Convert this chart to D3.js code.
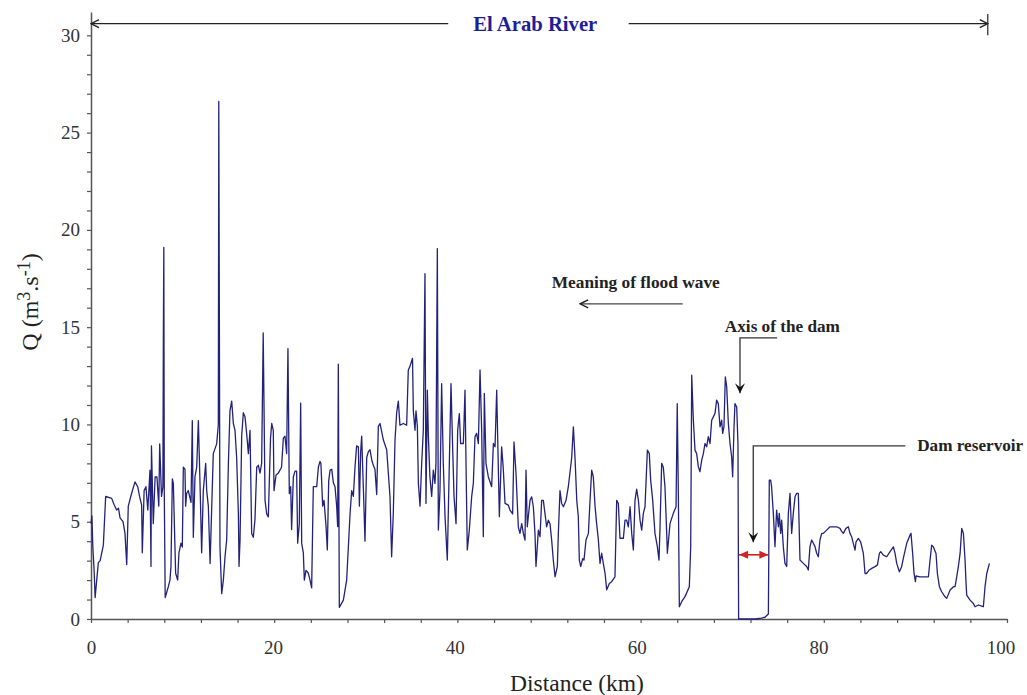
<!DOCTYPE html>
<html>
<head>
<meta charset="utf-8">
<script src="https://cdn.jsdelivr.net/npm/d3@7"></script>
<style>
  body { margin: 0; background: #fff; }
  svg { display: block; font-family: "Liberation Serif", "Times New Roman", serif; }
</style>
</head>
<body>
<svg id="chart" width="1027" height="695"></svg>
<script>
// discharge Q (m3/s) along the river as [km, Q]
const reachUpper = [
  [0,4.9],[0.1,5.3],[0.2,3.7],[0.35,2.4],[0.45,1.1],[0.8,2.9],[1.0,3.0],[1.35,3.8],[1.6,6.3],[2.26,6.2],
  [2.5,5.9],[2.8,5.6],[3.0,5.7],[3.17,5.2],[3.5,5.0],[3.71,4.4],[3.9,2.8],[4.07,5.8],[4.4,6.4],[4.8,7.05],
  [5.1,6.8],[5.3,6.3],[5.53,5.85],[5.6,3.4],[5.8,6.6],[6.0,6.8],[6.2,5.6],[6.44,7.65],[6.55,2.7],[6.6,8.9],
  [6.8,4.9],[7.0,7.3],[7.2,7.3],[7.4,5.8],[7.5,9.0],[7.7,6.3],[7.85,6.8],[7.9,14.5],[7.95,19.1],[8.0,6.5],
  [8.1,1.1],[8.44,1.66],[8.62,2.0],[8.73,2.7],[8.88,7.2],[8.99,6.97],[9.1,4.9],[9.24,2.35],[9.46,2.0],[9.6,3.4],
  [9.82,3.9],[9.97,3.7],[10.08,7.8],[10.26,7.7],[10.33,5.8],[10.44,6.45],[10.62,6.6],[10.92,6.0],[11.06,10.2],[11.17,4.2],
  [11.35,7.3],[11.54,7.8],[11.72,10.2],[11.9,7.0],[12.08,3.4],[12.26,6.6],[12.52,8.0],[12.63,6.6],[12.81,5.8],[13.0,2.85],
  [13.35,8.5],[13.72,9.0],[13.9,10.0],[13.95,26.6],[14.08,3.7],[14.27,1.3],[14.45,2.0],[14.63,3.2],[14.81,4.05],[15.0,8.0],
  [15.17,10.7],[15.36,11.2],[15.54,10.05],[15.72,9.7],[15.9,8.3],[16.09,5.4],[16.16,2.7],[16.27,4.05],[16.45,9.4],[16.63,10.6],
  [16.81,10.4],[17.0,9.5],[17.18,8.5],[17.36,9.7],[17.54,4.4],[17.72,4.2],[17.9,5.1],[18.09,7.8],[18.27,7.9],[18.45,7.5],
  [18.63,8.0],[18.8,14.7]
];
const reachMiddle = [
  [19.0,6.1],[19.18,5.4],[19.36,5.25],[19.6,9.3],[19.73,10.05],[19.9,9.7],[19.98,6.6],[20.2,7.4],[20.45,7.5],[20.8,7.8],
  [21.0,9.3],[21.18,9.4],[21.36,8.5],[21.5,13.9],[21.65,6.45],[21.8,6.8],[21.9,4.6],[22.09,7.3],[22.27,7.6],[22.45,7.6],
  [22.56,3.9],[22.74,4.9],[22.89,11.1],[23.0,3.9],[23.18,3.4],[23.29,2.0],[23.47,2.5],[23.73,2.35],[23.91,2.0],[24.09,1.6],
  [24.27,6.8],[24.45,6.8],[24.64,6.8],[24.82,7.8],[25.0,8.1],[25.1,8.0],[25.29,5.8],[25.44,6.1],[25.66,4.75],[25.8,3.55],
  [25.95,7.1],[26.1,7.65],[26.28,7.7],[26.46,7.0],[26.64,6.8],[26.82,5.8],[26.93,4.75],[27.0,13.1],[27.11,0.6],[27.55,0.97],
  [27.91,2.0],[28.28,5.4],[28.46,6.6],[28.64,6.3],[28.82,7.8],[29.0,8.9],[29.19,8.85],[29.3,5.8],[29.44,8.6],[29.55,9.4],
  [29.73,6.8],[29.91,4.0],[30.1,8.3],[30.28,8.6],[30.46,8.7],[30.64,8.2],[30.82,7.9],[31.0,7.7],[31.19,6.4],[31.37,9.9],
  [31.55,10.05],[31.92,9.2],[32.28,8.7],[32.46,7.5],[32.64,6.3],[32.82,3.2],[33.0,5.4],[33.19,9.2],[33.37,10.6],[33.55,11.2],
  [33.73,9.96],[34.1,10.05],[34.46,9.96],[34.64,12.8],[34.8,12.96],[35.1,13.4],[35.19,10.7],[35.37,9.7],[35.48,10.7],[35.63,9.9],
  [35.74,6.97],[35.92,5.8],[36.1,8.0],[36.28,9.7],[36.46,17.75],[36.57,5.94],[36.72,11.76],[36.83,9.4],[37.0,7.3],[37.19,6.3],
  [37.37,7.65],[37.55,6.97],[37.66,8.0],[37.81,19.04],[37.92,4.57],[38.1,6.6],[38.28,12.1],[38.46,8.0],[38.65,5.25],[38.9,3.03],
  [39.12,8.0],[39.3,12.1],[39.48,8.85],[39.63,6.3],[39.85,4.9],[40.03,9.7],[40.21,10.56],[40.35,9.02],[40.65,9.02],[40.83,11.76],
  [40.94,8.0],[41.08,3.55],[41.3,4.57],[41.56,6.3],[41.74,6.97],[41.92,9.37],[42.1,9.54],[42.29,9.02],[42.47,12.8],[42.65,9.7],
  [42.83,4.23],[42.94,11.6],[43.12,8.0],[43.38,7.3],[43.74,6.8],[43.93,9.02],[44.11,8.85],[44.29,11.76]
];
const reachLower = [
  [44.58,5.26],[44.83,8.85],[45.0,7.8],[45.2,5.94],[45.56,5.85],[45.74,5.6],[46.03,5.4],[46.18,9.1],[46.4,7.48],[46.65,4.74],
  [46.83,4.4],[47.02,4.9],[47.2,4.4],[47.38,4.06],[47.49,7.65],[47.63,4.74],[47.74,5.26],[47.93,6.1],[48.11,6.28],[48.29,5.77],
  [48.47,4.4],[48.58,2.7],[48.84,4.57],[49.02,4.23],[49.2,6.1],[49.38,6.1],[49.56,5.43],[49.74,4.74],[49.93,5.08],[50.11,4.9],
  [50.29,4.06],[50.47,3.03],[50.66,2.17],[50.91,2.7],[51.02,4.4],[51.2,6.6],[51.38,5.94],[51.57,5.77],[51.86,6.1],[52.11,6.8],
  [52.48,8.3],[52.66,9.88],[52.84,8.3],[53.03,6.1],[53.2,5.26],[53.31,3.03],[53.46,2.7],[53.68,3.1],[53.82,3.03],[54.04,4.06],
  [54.3,4.4],[54.48,6.1],[54.66,7.65],[54.84,7.3],[55.03,5.77],[55.2,4.9],[55.39,4.06],[55.57,2.86],[55.75,3.38],[55.93,2.86],
  [56.12,2.35],[56.3,1.5],[56.59,1.83],[56.84,1.92],[57.2,2.17],[57.39,6.1],[57.57,5.94],[57.75,4.15],[58.12,4.15],[58.3,5.08],
  [58.48,5.08],[58.66,4.74],[58.85,5.77],[59.03,4.4],[59.21,3.55],[59.39,6.1],[59.57,6.68],[59.76,6.1],[59.94,5.08],[60.12,4.57],
  [60.3,5.43],[60.48,5.77],[60.74,8.68],[60.95,8.5],[61.1,7.14],[61.32,6.1],[61.57,4.4],[61.83,3.72],[62.01,3.03],[62.12,4.74],
  [62.3,8.0],[62.48,7.8],[62.66,6.8],[62.85,4.4],[62.92,3.38],[63.21,4.9],[63.57,5.43],[63.87,5.77],[64.0,11.07],[64.12,6.46],
  [64.23,0.63],[64.48,0.89],[64.85,1.15],[65.32,1.66],[65.47,3.72],[65.58,12.53],[65.76,10.22],[65.94,8.68],[66.12,8.5],[66.3,7.83],
  [66.48,7.57],[66.67,8.17],[66.85,8.5],[67.03,9.02],[67.21,8.85],[67.39,9.37],[67.58,9.02],[67.76,10.22],[67.94,10.39],[68.12,10.56],
  [68.3,11.25],[68.48,11.07],[68.67,9.88],[68.85,10.22],[68.96,9.54],[69.1,9.88],[69.25,12.44],[69.4,11.93],[69.58,10.05],[69.76,9.02],
  [69.94,8.34],[70.05,7.31],[70.2,9.88],[70.3,11.07],[70.49,10.9],[70.63,9.02]
];
// downstream of the dam axis: empty reservoir, then the flow resumes
const reachDam = [
  [70.7,0],[71.5,0],[72.5,0],[73.2,0.05],[73.58,0.09],[73.95,0.26],[74.05,7.14],[74.2,7.14],[74.3,6.8],[74.49,5.43],
  [74.67,3.72],[74.85,5.6],[75.04,4.74],[75.14,5.43],[75.29,4.4],[75.4,5.08],[75.58,3.72],[75.76,2.86],[75.95,2.7],[76.13,5.43],
  [76.31,6.46],[76.49,4.4],[76.67,5.43],[76.86,6.28],[77.04,6.46],[77.22,6.46],[77.4,3.03],[77.77,2.86],[78.13,2.7],[78.31,2.52],
  [78.49,3.72],[78.68,4.06],[78.86,3.89],[79.04,3.72],[79.22,3.38],[79.4,3.2],[79.58,4.06],[79.77,4.4],[79.95,4.4],[80.31,4.57],
  [80.68,4.74],[81.04,4.74],[81.4,4.74],[81.77,4.66],[81.95,4.5],[82.13,4.4],[82.42,4.66],[82.68,4.74],[82.86,4.4],[83.04,4.23],
  [83.22,3.89],[83.41,3.54],[83.52,3.97],[83.77,4.14],[84.02,3.97],[84.32,3.37],[84.5,2.34],[84.68,2.34],[84.97,2.52],[85.23,2.6],
  [85.59,2.69],[85.85,2.77],[86.07,3.37],[86.21,3.46],[86.5,3.28],[86.87,3.2],[87.23,3.46],[87.6,3.71],[87.78,3.37],[87.96,2.86],
  [88.25,2.43],[88.5,2.69],[88.68,3.11],[89.05,3.89],[89.41,4.31],[89.52,4.4],[89.7,3.37],[89.85,2.34],[90.0,1.92],[90.07,2.21],
  [90.5,2.17],[91.05,2.17],[91.42,2.17],[91.6,3.03],[91.78,3.8],[91.96,3.71],[92.25,3.37],[92.4,2.34],[92.62,1.66],[92.87,1.4],
  [93.24,1.14],[93.42,1.06],[93.79,1.49],[94.15,1.66],[94.33,1.66],[94.51,2.17],[94.69,2.69],[94.88,3.37],[95.06,4.66],[95.24,4.4],
  [95.42,3.03],[95.53,1.83],[95.6,1.23],[95.97,0.97],[96.33,0.8],[96.51,0.63],[96.88,0.72],[97.24,0.66],[97.42,0.63],[97.6,1.66],
  [97.79,2.34],[98.08,2.86]
];

const xTicks = d3.range(0, 101, 4);
const yTicks = d3.range(0, 31, 1);

const svg = d3.select("#chart");
const x = d3.scaleLinear().domain([0, 100]).range([91, 1007]);
const y = d3.scaleLinear().domain([0, 31.2]).range([619, 12]);

const profile = reachUpper.concat(reachMiddle, reachLower, reachDam);

// markers
const defs = svg.append("defs");
function marker(id, d, fill, stroke) {
  defs.append("marker")
      .attr("id", id)
      .attr("viewBox", "-12 -6 13 12")
      .attr("refX", 0).attr("refY", 0)
      .attr("markerWidth", 13).attr("markerHeight", 12)
      .attr("markerUnits", "userSpaceOnUse")
      .attr("orient", "auto-start-reverse")
    .append("path")
      .attr("d", d)
      .attr("fill", fill)
      .attr("stroke", stroke)
      .attr("stroke-width", 1.4);
}
marker("chevron", "M-8,-4L0,0L-8,4", "none", "#222");
marker("solid", "M-10,-5L0,0L-10,5L-6,0Z", "#111", "none");
marker("red", "M-9,-4L0,0L-9,4Z", "#d42020", "none");

// axes
const yAxis = d3.axisLeft(y)
    .tickValues(yTicks)
    .tickSize(4).tickSizeOuter(0).tickPadding(7)
    .tickFormat(d => d % 5 === 0 ? d : "");
const xAxis = d3.axisBottom(x)
    .tickValues(xTicks)
    .tickSize(4).tickSizeOuter(0).tickPadding(18)
    .tickFormat(d => d % 20 === 0 ? d : "");

const gy = svg.append("g").attr("transform", `translate(${x(0)},0)`).call(yAxis);
const gx = svg.append("g").attr("transform", `translate(0,${y(0)})`).call(xAxis);
[gx, gy].forEach(g => {
  g.select(".domain").attr("stroke", "#555").attr("stroke-width", 1.5);
  g.selectAll(".tick line").attr("stroke", "#555").attr("stroke-width", 1.2);
  g.selectAll(".tick text")
      .attr("font-family", "Liberation Serif, serif")
      .attr("font-size", 19)
      .attr("fill", "#333");
});
gx.selectAll(".tick text").attr("dx", d => -d * 0.065);

// profile line
svg.append("path")
    .datum(profile)
    .attr("fill", "none")
    .attr("stroke", "#22227c")
    .attr("stroke-width", 1.3)
    .attr("stroke-linejoin", "round")
    .attr("d", d3.line().x(d => x(d[0])).y(d => y(d[1])));

// axis titles
svg.append("text")
    .attr("x", 577).attr("y", 691)
    .attr("text-anchor", "middle")
    .attr("font-size", 23.5)
    .attr("fill", "#222")
    .text("Distance (km)");

const yt = svg.append("text")
    .attr("transform", "translate(38,302) rotate(-90)")
    .attr("text-anchor", "middle")
    .attr("font-size", 24)
    .attr("fill", "#222");
yt.append("tspan").text("Q (m");
yt.append("tspan").attr("dy", -8).attr("font-size", 18).text("3");
yt.append("tspan").attr("dy", 8).text(".s");
yt.append("tspan").attr("dy", -8).attr("font-size", 18).text("-1");
yt.append("tspan").attr("dy", 8).text(")");

// river extent arrow
const topQ = 30.6;
svg.append("line")
    .attr("x1", x(39.0)).attr("x2", x(0)).attr("y1", y(topQ)).attr("y2", y(topQ))
    .attr("stroke", "#222").attr("stroke-width", 1.3)
    .attr("marker-end", "url(#chevron)");
svg.append("line")
    .attr("x1", x(58.7)).attr("x2", x(97.9)).attr("y1", y(topQ)).attr("y2", y(topQ))
    .attr("stroke", "#222").attr("stroke-width", 1.3)
    .attr("marker-end", "url(#chevron)");
svg.append("line")
    .attr("x1", x(97.9)).attr("x2", x(97.9)).attr("y1", y(31.1)).attr("y2", y(30.0))
    .attr("stroke", "#333").attr("stroke-width", 1.3);
svg.append("text")
    .attr("x", x(48.5)).attr("y", y(topQ) + 7)
    .attr("text-anchor", "middle")
    .attr("font-size", 20).attr("font-weight", "bold")
    .attr("textLength", 124).attr("lengthAdjust", "spacingAndGlyphs")
    .attr("fill", "#1e1e96")
    .text("El Arab River");

// flood wave direction
const bold = (txt, km, q, len) => svg.append("text")
    .attr("x", x(km)).attr("y", y(q))
    .attr("font-size", 17).attr("font-weight", "bold")
    .attr("textLength", len).attr("lengthAdjust", "spacingAndGlyphs")
    .attr("fill", "#222")
    .text(txt);
bold("Meaning of flood wave", 50.3, 17.0, 168);
svg.append("line")
    .attr("x1", x(64.6)).attr("x2", x(53.4)).attr("y1", y(16.2)).attr("y2", y(16.2))
    .attr("stroke", "#444").attr("stroke-width", 1.3)
    .attr("marker-end", "url(#chevron)");

// dam axis
bold("Axis of the dam", 69.2, 14.74, 115);
svg.append("path")
    .attr("d", d3.line()([[x(74.9), y(14.45)], [x(70.85), y(14.45)], [x(70.85), y(11.6)]]))
    .attr("fill", "none").attr("stroke", "#333").attr("stroke-width", 1.3)
    .attr("marker-end", "url(#solid)");

// reservoir
bold("Dam reservoir", 90.2, 8.63, 106);
svg.append("path")
    .attr("d", d3.line()([[x(88.9), y(8.9)], [x(72.3), y(8.9)], [x(72.3), y(3.95)]]))
    .attr("fill", "none").attr("stroke", "#333").attr("stroke-width", 1.3)
    .attr("marker-end", "url(#solid)");
svg.append("line")
    .attr("x1", x(70.75)).attr("x2", x(73.95)).attr("y1", y(3.3)).attr("y2", y(3.3))
    .attr("stroke", "#d42020").attr("stroke-width", 1.6)
    .attr("marker-start", "url(#red)").attr("marker-end", "url(#red)");
</script>
</body>
</html>
